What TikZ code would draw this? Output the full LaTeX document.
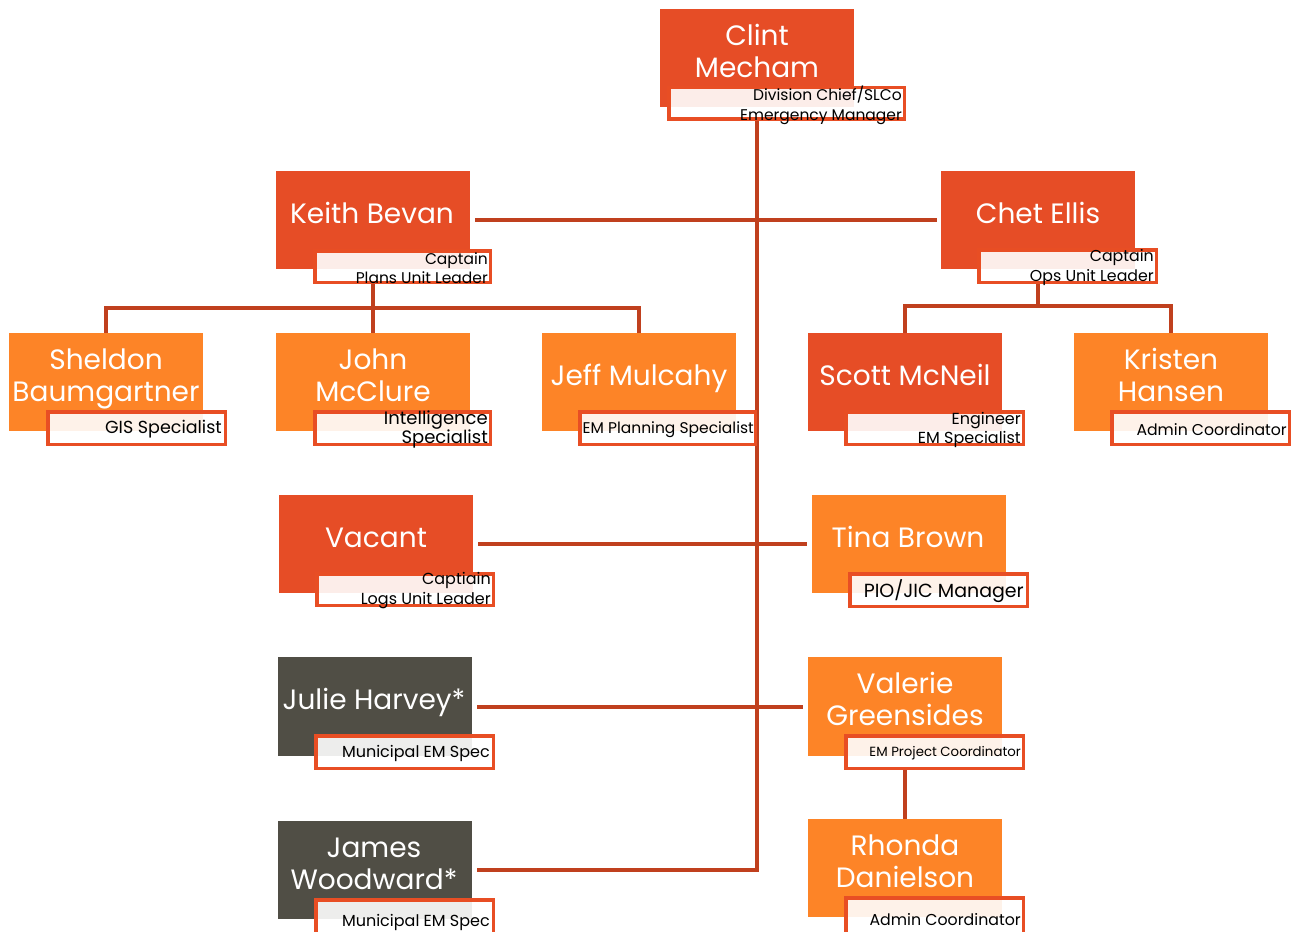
\documentclass[tikz,border=0pt]{standalone}
\usepackage{fontspec}
\setmainfont{Poppins}
\usetikzlibrary{backgrounds,calc}
\definecolor{cRed}{HTML}{E64D26}
\definecolor{cOrange}{HTML}{FD8427}
\definecolor{cGray}{HTML}{504E45}
\definecolor{cLine}{HTML}{C0401E}
\definecolor{cBorder}{HTML}{E84E24}
\tikzset{
  mainbox/.style={draw=none, rectangle, inner sep=0pt, anchor=north west},
  labelbox/.style={draw=cBorder, line width=3.5pt, fill=white, fill opacity=0.9, rectangle, inner sep=0pt, anchor=north west},
  nametext/.style={text=white, font=\fontsize{28}{32}\selectfont, align=center, inner sep=0pt},
  labeltext/.style={text=black, align=right, inner sep=0pt, anchor=east, yshift=-1.5pt},
  conn/.style={draw=cLine, line width=4pt}
}
\begin{document}
\begin{tikzpicture}[x=1pt,y=-1pt]
\useasboundingbox (0,0) rectangle (1297,931);
% main boxes
\node[mainbox, fill=cRed,    minimum width=194, minimum height=98] (clint)   at (660,9) {};
\node[mainbox, fill=cRed,    minimum width=194, minimum height=98] (keith)   at (276,171) {};
\node[mainbox, fill=cRed,    minimum width=194, minimum height=98] (chet)    at (941,171) {};
\node[mainbox, fill=cOrange, minimum width=194, minimum height=98] (sheldon) at (9,333) {};
\node[mainbox, fill=cOrange, minimum width=194, minimum height=98] (john)    at (276,333) {};
\node[mainbox, fill=cOrange, minimum width=194, minimum height=98] (jeff)    at (542,333) {};
\node[mainbox, fill=cRed,    minimum width=194, minimum height=98] (scott)   at (808,333) {};
\node[mainbox, fill=cOrange, minimum width=194, minimum height=98] (kristen) at (1074,333) {};
\node[mainbox, fill=cRed,    minimum width=194, minimum height=98] (vacant)  at (279,495) {};
\node[mainbox, fill=cOrange, minimum width=194, minimum height=98] (tina)    at (812,495) {};
\node[mainbox, fill=cGray,   minimum width=194, minimum height=99] (julie)   at (278,657) {};
\node[mainbox, fill=cOrange, minimum width=194, minimum height=99] (valerie) at (808,657) {};
\node[mainbox, fill=cGray,   minimum width=194, minimum height=98] (james)   at (278,821) {};
\node[mainbox, fill=cOrange, minimum width=194, minimum height=98] (rhonda)  at (808,819) {};
% label boxes (anchored at their outer top-left corner)
\node[labelbox, minimum width=235.5, minimum height=31.5] (clintL)   at (667,86) {};
\node[labelbox, minimum width=175.5, minimum height=31.5] (keithL)   at (313,249) {};
\node[labelbox, minimum width=177.5, minimum height=32.5] (chetL)    at (977,248) {};
\node[labelbox, minimum width=177.5, minimum height=32.5] (sheldonL) at (46,410) {};
\node[labelbox, minimum width=175.5, minimum height=32.5] (johnL)    at (313,410) {};
\node[labelbox, minimum width=175.5, minimum height=32.5] (jeffL)    at (578,410) {};
\node[labelbox, minimum width=177.5, minimum height=32.5] (scottL)   at (844,410) {};
\node[labelbox, minimum width=177.5, minimum height=32.5] (kristenL) at (1110,410) {};
\node[labelbox, minimum width=176.5, minimum height=31.5] (vacantL)  at (315,572) {};
\node[labelbox, minimum width=177.5, minimum height=32.5] (tinaL)    at (848,572) {};
\node[labelbox, minimum width=177.5, minimum height=32.5] (julieL)   at (314,734) {};
\node[labelbox, minimum width=177.5, minimum height=32.5] (valerieL) at (844,734) {};
\node[labelbox, minimum width=177.5, minimum height=35.5] (jamesL)   at (314,898) {};
\node[labelbox, minimum width=177.5, minimum height=35.5] (rhondaL)  at (844,896) {};
% name texts
\node[nametext] (clintN)   at (757,51)  {Clint\\Mecham};
\node[nametext] (keithN)   at (372,213) {Keith Bevan};
\node[nametext] (chetN)    at (1038,213) {Chet Ellis};
\node[nametext] (sheldonN) at (106,379) {Sheldon\\Baumgartner};
\node[nametext] (johnN)    at (373,375) {John\\McClure};
\node[nametext] (jeffN)    at (639,378) {Jeff Mulcahy};
\node[nametext] (scottN)   at (905,375) {Scott McNeil};
\node[nametext] (kristenN) at (1171,375) {Kristen\\Hansen};
\node[nametext] (vacantN)  at (376,538) {Vacant};
\node[nametext] (tinaN)    at (908,537) {Tina Brown};
\node[nametext] (julieN)   at (374,702) {Julie Harvey*};
\node[nametext] (valerieN) at (905,699) {Valerie\\Greensides};
\node[nametext] (jamesN)   at (374,864) {James\\Woodward*};
\node[nametext] (rhondaN)  at (905,861) {Rhonda\\Danielson};
% label texts
\node[labeltext, font=\fontsize{15.5}{20}\selectfont] (clintT)   at ([xshift=-4pt]clintL.east)   {Division Chief/SLCo\\Emergency Manager};
\node[labeltext, font=\fontsize{15.5}{19}\selectfont] (keithT)   at ([xshift=-4pt]keithL.east)   {Captain\\Plans Unit Leader};
\node[labeltext, font=\fontsize{15.8}{20}\selectfont] (chetT)    at ([xshift=-4pt]chetL.east)    {Captain\\Ops Unit Leader};
\node[labeltext, font=\fontsize{17.5}{19}\selectfont] (sheldonT) at ([xshift=-5pt]sheldonL.east) {GIS Specialist};
\node[labeltext, font=\fontsize{18}{19}\selectfont]   (johnT)    at ([xshift=-4pt]johnL.east)    {Intelligence\\Specialist};
\node[labeltext, font=\fontsize{15.5}{19}\selectfont] (jeffT)    at ([xshift=-3pt]jeffL.east)    {EM Planning Specialist};
\node[labeltext, font=\fontsize{16}{19}\selectfont]   (scottT)   at ([xshift=-4pt]scottL.east)   {Engineer\\EM Specialist};
\node[labeltext, font=\fontsize{15.7}{19}\selectfont] (kristenT) at ([xshift=-4pt]kristenL.east) {Admin Coordinator};
\node[labeltext, font=\fontsize{16}{20}\selectfont]   (vacantT)  at ([xshift=-4pt]vacantL.east)  {Captiain\\Logs Unit Leader};
\node[labeltext, font=\fontsize{19}{19}\selectfont]   (tinaT)    at ([xshift=-5pt]tinaL.east)    {PIO/JIC Manager};
\node[labeltext, font=\fontsize{16}{19}\selectfont]   (julieT)   at ([xshift=-5pt]julieL.east)   {Municipal EM Spec};
\node[labeltext, font=\fontsize{13.3}{19}\selectfont] (valerieT) at ([xshift=-4pt]valerieL.east) {EM Project Coordinator};
\node[labeltext, font=\fontsize{16}{19}\selectfont]   (jamesT)   at ([xshift=-5pt,yshift=-3pt]jamesL.east) {Municipal EM Spec};
\node[labeltext, font=\fontsize{15.8}{19}\selectfont] (rhondaT)  at ([xshift=-4pt,yshift=-3pt]rhondaL.east) {Admin Coordinator};
% connectors
\coordinate (trunkTop) at (clint.south |- clintL.south);
\coordinate (trunkBot) at (clint.south |- james.east);
\coordinate (keithJ) at ($(keith.south |- keithL.south)+(0,24)$);
\coordinate (chetJ) at ($(chet.south |- chetL.south)+(0,22)$);
\begin{pgfonlayer}{background}
\draw[conn] (trunkTop) -- (trunkBot) -- ([xshift=5pt]james.east);
\draw[conn] ([xshift=5pt]keith.east) -- ([xshift=-4pt]chet.west);
\draw[conn] (keith.south |- keithL.south) -- (keithJ);
\draw[conn] ([yshift=-4pt]sheldon.north) -- (sheldon.north |- keithJ) -- (jeff.north |- keithJ) -- ([yshift=-4pt]jeff.north);
\draw[conn] (keithJ) -- ([yshift=-4pt]john.north);
\draw[conn] (chet.south |- chetL.south) -- (chetJ);
\draw[conn] ([yshift=-5pt]scott.north) -- (scott.north |- chetJ) -- (kristen.north |- chetJ) -- ([yshift=-5pt]kristen.north);
\draw[conn] ([xshift=5pt]vacant.east) -- ([xshift=-5pt]tina.west);
\draw[conn] ([xshift=5pt]julie.east) -- ([xshift=-5pt]valerie.west);
\draw[conn] (valerie.south |- valerieL.south) -- ([yshift=-6pt]rhonda.north);
\end{pgfonlayer}
\end{tikzpicture}
\end{document}
